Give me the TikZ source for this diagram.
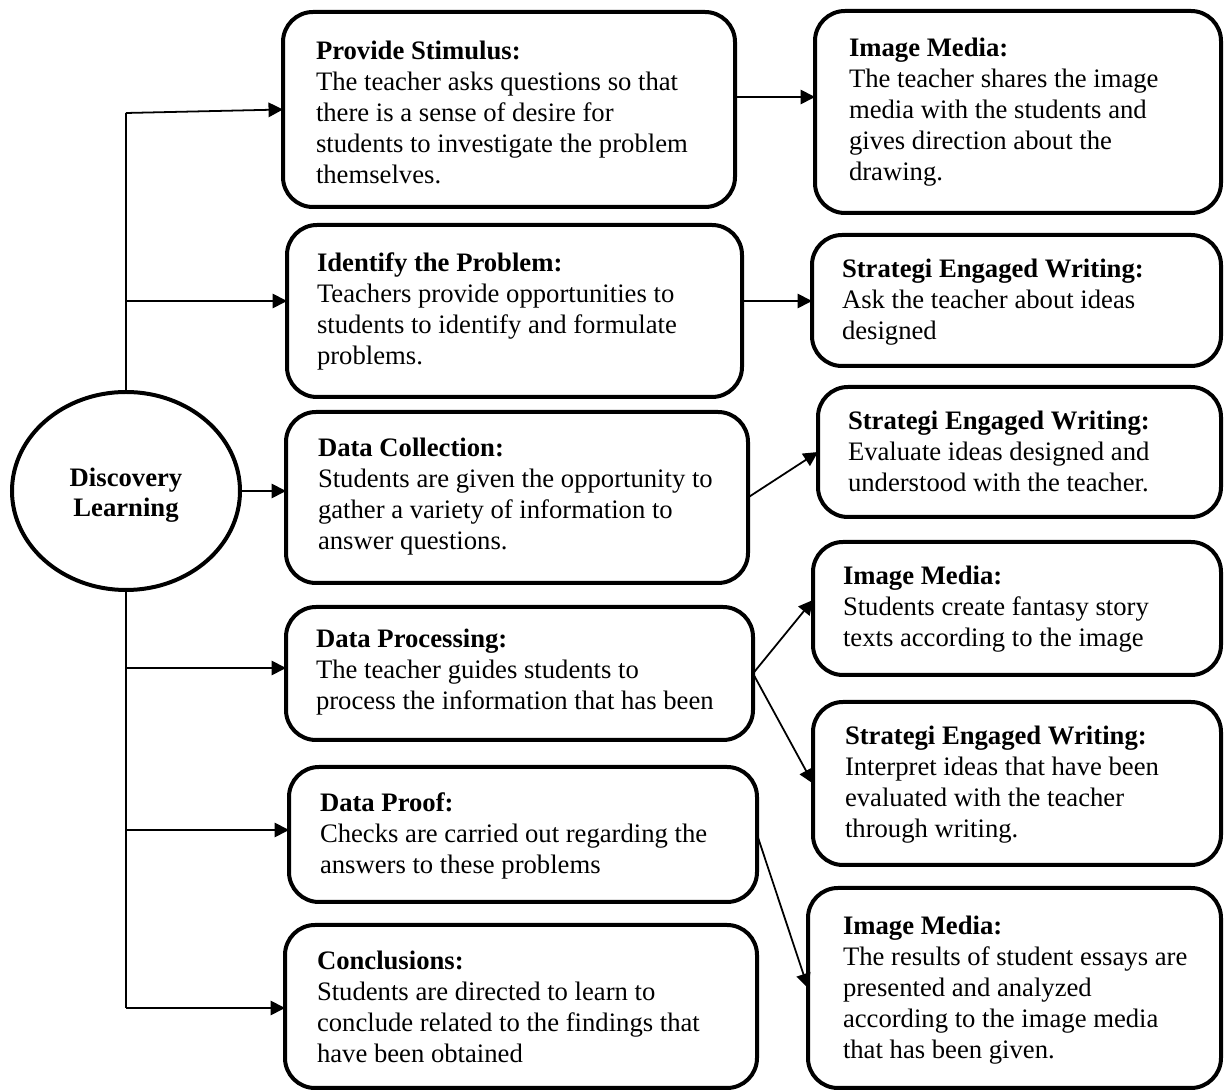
\documentclass[tikz,border=0pt]{standalone}
\usepackage{fontspec}
\setmainfont{Liberation Serif}
\usetikzlibrary{arrows.meta,shapes.geometric}
\tikzset{
  box/.style={draw, line width=1.8pt, rounded corners=13.5pt, inner sep=0pt, outer sep=0pt, fill=white},
  txt/.style={anchor=base west, inner sep=0pt, outer sep=0pt, font=\fontsize{12}{13.95}\selectfont},
  conn/.style={line width=0.8pt},
  arr/.style={line width=0.8pt, -{Triangle[length=6.5pt,width=6.5pt]}},
}
\newcommand{\mybox}[5]{%
  \pgfmathsetmacro{\bw}{(#4-#2)*0.45}%
  \pgfmathsetmacro{\bh}{(#5-#3)*0.45}%
  \node[box, anchor=north west, minimum width=\bw pt, minimum height=\bh pt] (#1) at (#2,#3) {};%
}
\newcommand{\mytext}[4]{%
  \node[txt] (#1) at (#2,#3) {\begin{tabular}[t]{@{}l@{}}#4\end{tabular}};%
}
\begin{document}
\begin{tikzpicture}[x=0.45pt,y=-0.45pt]
\useasboundingbox (0,0) rectangle (1226,1090);

% central ellipse
\node[draw, ellipse, line width=1.8pt, minimum width=102.6pt, minimum height=89.1pt, inner sep=0pt, outer sep=0pt] (dl) at (126,491) {};
\node[anchor=base, inner sep=0pt, font=\bfseries\fontsize{12}{13.5}\selectfont] (dlt) at (126,487)
  {\begin{tabular}[t]{@{}c@{}}Discovery\\Learning\end{tabular}};

% left column boxes
\mybox{ps}{283}{12}{735}{207}
\mybox{id}{287}{225}{742}{397}
\mybox{dc}{286}{412}{748}{583}
\mybox{dpr}{286}{607}{753}{740}
\mybox{dpf}{289}{767}{757}{902}
\mybox{cc}{285}{925}{757}{1088}

% right column boxes
\mybox{ra}{815}{11}{1221}{213}
\mybox{rb}{812}{235}{1221}{366}
\mybox{rc}{818}{387}{1221}{517}
\mybox{rd}{813}{542}{1221}{675}
\mybox{re}{813}{702}{1221}{865}
\mybox{rf}{808}{888}{1221}{1088}

% texts left
\mytext{pst}{316}{60}{\textbf{Provide Stimulus:}\\The teacher asks questions so that\\there is a sense of desire for\\students to investigate the problem\\themselves.}
\mytext{idt}{317}{272}{\textbf{Identify the Problem:}\\Teachers provide opportunities to\\students to identify and formulate\\problems.}
\mytext{dct}{318}{457}{\textbf{Data Collection:}\\Students are given the opportunity to\\gather a variety of information to\\answer questions.}
\mytext{dprt}{316}{648}{\textbf{Data Processing:}\\The teacher guides students to\\process the information that has been}
\mytext{dpft}{320}{812}{\textbf{Data Proof:}\\Checks are carried out regarding the\\answers to these problems}
\mytext{cct}{317}{970}{\textbf{Conclusions:}\\Students are directed to learn to\\conclude related to the findings that\\have been obtained}

% texts right
\mytext{rat}{849}{57}{\textbf{Image Media:}\\The teacher shares the image\\media with the students and\\gives direction about the\\drawing.}
\mytext{rbt}{842}{278}{\textbf{Strategi Engaged Writing:}\\Ask the teacher about ideas\\designed}
\mytext{rct}{848}{430}{\textbf{Strategi Engaged Writing:}\\Evaluate ideas designed and\\understood with the teacher.}
\mytext{rdt}{843}{585}{\textbf{Image Media:}\\Students create fantasy story\\texts according to the image}
\mytext{ret}{845}{745}{\textbf{Strategi Engaged Writing:}\\Interpret ideas that have been\\evaluated with the teacher\\through writing.}
\mytext{rft}{843}{935}{\textbf{Image Media:}\\The results of student essays are\\presented and analyzed\\according to the image media\\that has been given.}

% trunk coordinates
\coordinate (top) at (126,113);
\coordinate (bot) at (126,1008);
\coordinate (b2) at (126,301);
\coordinate (b4) at (126,668);
\coordinate (b5) at (126,830);
\coordinate (y1) at (0,97);
\coordinate (y2) at (0,301);
\coordinate (y4) at (0,600);

% trunk lines
\draw[conn] (dl.north) -- (top);
\draw[conn] (dl.south) -- (bot);

% arrows to left column
\draw[arr] (top) -- (ps.west);
\draw[arr] (b2) -- (b2 -| id.west);
\draw[arr] (dl.east) -- (dl.east -| dc.west);
\draw[arr] (b4) -- (b4 -| dpr.west);
\draw[arr] (b5) -- (b5 -| dpf.west);
\draw[arr] (bot) -- (bot -| cc.west);

% arrows to right column
\draw[arr] (ps.east |- y1) -- (ra.west |- y1);
\draw[arr] (id.east |- y2) -- (rb.west |- y2);
\draw[arr] (dc.east) -- (rc.west);
\draw[arr] (dpr.east) -- (rd.west |- y4);
\draw[arr] (dpr.east) -- (re.west);
\draw[arr] (dpf.east) -- (rf.west);
\end{tikzpicture}
\end{document}
